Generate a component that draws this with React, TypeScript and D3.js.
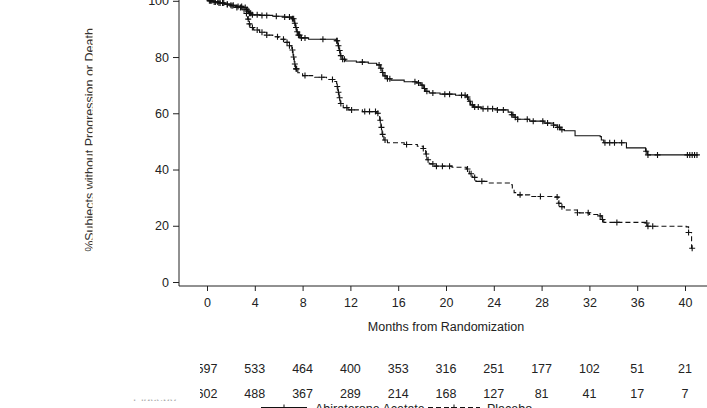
import { useEffect, useRef } from "react";
import * as d3 from "d3";

const months = [0, 4, 8, 12, 16, 20, 24, 28, 32, 36, 40];
const yTicks = [0, 20, 40, 60, 80, 100];
const abiAtRisk = [597, 533, 464, 400, 353, 316, 251, 177, 102, 51, 21];
const pboAtRisk = [602, 488, 367, 289, 214, 168, 127, 81, 41, 17, 7];

// [month, % without progression] where the curve steps
const abiSteps: [number, number][] = [
  [0, 100], [0.5, 99.6], [1.0, 99.2], [1.5, 98.8], [2.0, 98.4], [2.5, 98.0], [3.0, 97.6],
  [3.3, 97.0], [3.4, 96.3], [3.5, 95.6], [3.7, 95.0], [4.5, 94.8], [5.5, 94.5], [6.5, 94.2],
  [7.1, 93.6], [7.3, 92.0], [7.4, 90.5], [7.5, 89.0], [7.6, 87.8], [7.8, 86.8], [8.5, 86.3],
  [10.8, 85.8], [10.95, 84.0], [11.05, 82.3], [11.15, 80.5], [11.3, 79.2], [11.6, 78.6],
  [12.5, 78.2], [13.5, 77.8], [14.2, 77.2], [14.5, 76.0], [14.65, 74.5], [14.8, 73.3],
  [15.0, 72.3], [15.4, 71.8], [16.5, 71.2], [17.5, 70.8], [17.9, 70.0], [18.1, 68.8],
  [18.3, 67.8], [18.6, 67.2], [19.5, 66.8], [20.8, 66.4], [21.7, 65.8], [21.9, 64.3],
  [22.05, 63.0], [22.3, 62.2], [23.0, 61.6], [24.3, 61.2], [25.2, 60.4], [25.5, 59.5],
  [25.7, 58.6], [26.0, 57.9], [27.0, 57.2], [28.2, 56.5], [29.0, 55.8], [29.3, 55.0],
  [29.6, 54.2], [29.9, 53.8], [30.8, 52.0], [32.9, 51.7], [33.0, 50.5], [33.2, 49.5],
  [35.1, 47.7], [36.7, 46.5], [36.85, 45.2],
];
const abiEnd = 41.1;
const abiCensor = [
  0.2, 0.4, 0.7, 0.9, 1.1, 1.4, 1.7, 2.0, 2.2, 2.6, 2.9, 3.2, 3.35, 3.45, 3.55, 3.65, 3.8,
  4.2, 4.6, 5.0, 5.8, 6.5, 6.9, 7.15, 7.25, 7.35, 7.45, 7.55, 7.65, 7.75, 7.9, 8.2, 9.7,
  10.85, 10.9, 11.0, 11.1, 11.2, 11.35, 11.5, 13.0, 14.4, 14.55, 14.7, 14.9, 15.1, 15.3,
  17.4, 17.7, 18.0, 18.2, 18.4, 18.9, 19.9, 20.3, 21.3, 21.6, 21.8, 22.0, 22.2, 22.4, 22.7,
  23.1, 23.5, 23.9, 24.3, 24.8, 25.5, 25.6, 25.8, 26.0, 26.8, 27.3, 28.1, 28.5, 29.0, 29.35,
  29.5, 29.7, 33.3, 33.7, 34.1, 34.7, 36.75, 36.9, 37.7, 40.2, 40.4, 40.6, 40.8, 41.0,
];

const pboSteps: [number, number][] = [
  [0, 100], [0.5, 99.6], [1.0, 99.2], [1.5, 98.7], [2.0, 98.2], [2.5, 97.6], [3.0, 96.8],
  [3.3, 95.5], [3.4, 93.5], [3.5, 91.8], [3.6, 90.5], [3.9, 89.6], [4.4, 88.8], [5.0, 87.8],
  [5.5, 87.2], [6.0, 86.3], [6.5, 85.2], [6.9, 84.0], [7.1, 82.5], [7.2, 80.0], [7.3, 77.5],
  [7.4, 75.8], [7.6, 74.4], [8.0, 73.4], [9.0, 72.8], [10.0, 72.0], [10.6, 71.3],
  [10.85, 69.5], [10.95, 67.5], [11.05, 65.5], [11.15, 63.5], [11.4, 62.0], [11.8, 61.2],
  [13.0, 60.6], [14.2, 60.0], [14.45, 57.5], [14.55, 55.0], [14.65, 52.5], [14.8, 50.5],
  [15.1, 49.5], [16.5, 48.9], [17.6, 48.3], [18.1, 47.5], [18.3, 45.5], [18.4, 43.5],
  [18.6, 42.0], [19.0, 41.2], [20.5, 40.8], [21.7, 40.2], [21.95, 38.5], [22.2, 37.2],
  [22.5, 35.8], [23.5, 35.2], [25.3, 34.6], [25.55, 33.0], [25.7, 31.8], [26.0, 31.0],
  [27.0, 30.4], [29.2, 30.2], [29.4, 28.0], [29.6, 26.8], [29.9, 25.6], [31.0, 24.6],
  [32.0, 24.0], [32.9, 23.5], [33.05, 22.2], [33.2, 21.2], [36.7, 21.0], [36.85, 19.8],
  [40.1, 19.6], [40.3, 17.6], [40.55, 12.0],
];
const pboEnd = 40.6;
const pboCensor = [
  0.3, 0.6, 1.0, 1.3, 1.7, 2.1, 2.5, 2.8, 3.1, 3.3, 3.45, 3.55, 3.8, 4.2, 4.6, 5.0, 5.9,
  6.4, 6.7, 6.9, 7.15, 7.25, 7.35, 7.45, 7.5, 8.2, 9.6, 10.5, 10.9, 11.0, 11.1, 11.2, 11.7,
  12.1, 13.2, 13.6, 14.1, 14.3, 14.5, 14.6, 14.7, 14.9, 16.7, 18.1, 18.35, 18.5, 18.9, 19.2,
  19.7, 20.3, 21.8, 22.1, 22.4, 23.0, 26.2, 27.9, 29.3, 29.45, 29.7, 31.0, 31.9, 32.9, 33.1,
  34.3, 36.8, 36.9, 37.3, 40.3, 40.6,
];

const FONT = "'Liberation Sans', Arial, sans-serif";

function survAt(steps: [number, number][], t: number) {
  let v = steps[0][1];
  for (const [st, sv] of steps) {
    if (st <= t) v = sv;
    else break;
  }
  return v;
}

function App() {
  const svgRef = useRef<SVGSVGElement>(null);

  useEffect(() => {
    const svgElement = svgRef.current;
    if (!svgElement) return;
    const svg = d3.select(svgElement);

    const x = d3.scaleLinear().domain([0, 40]).range([207, 685]);
    const y = d3.scaleLinear().domain([0, 100]).range([282, 0.8]);

    const defs = svg.append("defs");
    defs.append("clipPath").attr("id", "ylabClip")
      .append("rect").attr("x", 0).attr("y", 0).attr("width", 92.5).attr("height", 300);
    defs.append("clipPath").attr("id", "riskClip")
      .append("rect").attr("x", 200).attr("y", 340).attr("width", 520).attr("height", 70);
    defs.append("clipPath").attr("id", "rowLabClip")
      .append("rect").attr("x", 100).attr("y", 399.5).attr("width", 90).attr("height", 1.5);

    // y axis
    const yAxis = svg.append("g")
      .attr("transform", "translate(179,0)")
      .call(d3.axisLeft(y).tickValues(yTicks).tickSize(6).tickPadding(4).tickSizeOuter(0));
    yAxis.select(".domain").remove();
    yAxis.append("line").attr("x1", 0).attr("x2", 0).attr("y1", -5).attr("y2", 286)
      .attr("stroke", "#222");
    yAxis.selectAll(".tick line").attr("stroke", "#222");
    yAxis.selectAll(".tick text").attr("fill", "#222").style("font-family", FONT).style("font-size", "12.5px");

    // x axis
    const xAxis = svg.append("g")
      .attr("transform", "translate(0,286)")
      .call(d3.axisBottom(x).tickValues(months).tickSize(5).tickPadding(7).tickSizeOuter(0));
    xAxis.select(".domain").remove();
    xAxis.append("line").attr("x1", 179).attr("x2", 707).attr("y1", 0).attr("y2", 0)
      .attr("stroke", "#222");
    xAxis.selectAll(".tick line").attr("stroke", "#222");
    xAxis.selectAll(".tick text").attr("fill", "#222").style("font-family", FONT).style("font-size", "12.5px");

    svg.append("text")
      .attr("x", 446).attr("y", 331)
      .attr("text-anchor", "middle")
      .attr("fill", "#222")
      .style("font-family", FONT).style("font-size", "12.5px")
      .text("Months from Randomization");

    svg.append("g").attr("clip-path", "url(#ylabClip)")
      .append("text")
      .attr("transform", "translate(94,140) rotate(-90)")
      .attr("text-anchor", "middle")
      .attr("fill", "#333")
      .style("font-family", FONT).style("font-size", "12.5px")
      .text("%Subjects without Progression or Death");

    // curves
    const line = d3.line<[number, number]>()
      .x((d) => x(d[0]))
      .y((d) => y(d[1]))
      .curve(d3.curveStepAfter);

    const arms = [
      { steps: abiSteps, end: abiEnd, censor: abiCensor, dash: null as string | null },
      { steps: pboSteps, end: pboEnd, censor: pboCensor, dash: "5,3" },
    ];
    arms.forEach((arm) => {
      const pts: [number, number][] = [...arm.steps, [arm.end, arm.steps[arm.steps.length - 1][1]]];
      svg.append("path")
        .attr("d", line(pts) || "")
        .attr("fill", "none")
        .attr("stroke", "#111")
        .attr("stroke-width", 1.1)
        .attr("stroke-dasharray", arm.dash);
      svg.append("g")
        .selectAll("path")
        .data(arm.censor)
        .enter()
        .append("path")
        .attr("d", (t) => {
          const cx = x(t);
          const cy = y(survAt(arm.steps, t));
          return `M${cx - 3},${cy}H${cx + 3}M${cx},${cy - 3}V${cy + 3}`;
        })
        .attr("stroke", "#111")
        .attr("stroke-width", 1.1)
        .attr("fill", "none");
    });

    // numbers at risk
    const risk = svg.append("g").attr("clip-path", "url(#riskClip)");
    [abiAtRisk, pboAtRisk].forEach((row, i) => {
      risk.selectAll(`.r${i}`)
        .data(row)
        .enter()
        .append("text")
        .attr("class", `r${i}`)
        .attr("x", (_, j) => x(months[j]))
        .attr("y", i === 0 ? 373 : 398)
        .attr("text-anchor", "middle")
        .attr("fill", "#222")
        .style("font-family", FONT).style("font-size", "12.5px")
        .text((d) => d);
    });

    svg.append("g").attr("clip-path", "url(#rowLabClip)")
      .append("text")
      .attr("x", 133).attr("y", 401.5)
      .attr("fill", "#aaa")
      .style("font-family", FONT).style("font-size", "12px")
      .text("Placebo");

    // legend
    const legend = svg.append("g");
    const legendItems = [
      { label: "Abiraterone Acetate", x0: 261, x1: 307, tx: 315, dash: null as string | null },
      { label: "Placebo", x0: 428, x1: 480, tx: 487, dash: "5,3" },
    ];
    legendItems.forEach((it) => {
      legend.append("line")
        .attr("x1", it.x0).attr("x2", it.x1).attr("y1", 407.5).attr("y2", 407.5)
        .attr("stroke", "#111").attr("stroke-dasharray", it.dash);
      const mx = (it.x0 + it.x1) / 2;
      legend.append("path")
        .attr("d", `M${mx - 3},407.5H${mx + 3}M${mx},404.5V410.5`)
        .attr("stroke", "#111");
      legend.append("text")
        .attr("x", it.tx).attr("y", 413)
        .attr("fill", "#222")
        .style("font-family", FONT).style("font-size", "12.5px")
        .text(it.label);
    });

    return () => {
      d3.select(svgElement).selectAll("*").remove();
    };
  }, []);

  return (
    <svg
      ref={svgRef}
      width={707}
      height={408}
      style={{ position: "absolute", left: 0, top: 0, background: "#fff" }}
    ></svg>
  );
}

export default App;
